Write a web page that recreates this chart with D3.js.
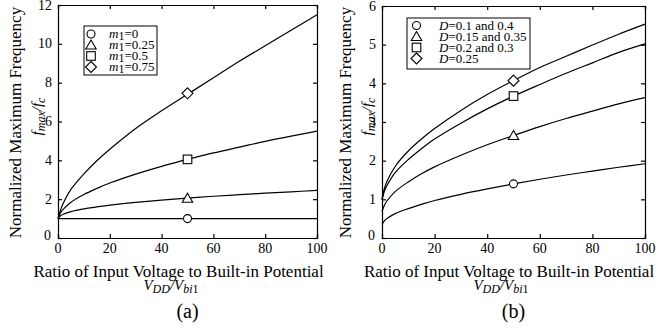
<html>
<head>
<script src="https://d3js.org/d3.v7.min.js"></script>
<style>
  body { margin: 0; background: #fff; }
</style>
</head>
<body>
<div id="chart"></div>
<script>
// x positions (V_DD / V_bi1)
var xs = [0, 1, 2, 5, 10, 15, 20, 30, 40, 50, 60, 70, 80, 90, 100];

// panel (a) curves, f_max/f_c
var aM0   = [1, 1, 1, 1, 1, 1, 1, 1, 1, 1, 1, 1, 1, 1, 1];
var aM025 = [1, 1.15, 1.22, 1.36, 1.5, 1.6, 1.69, 1.83, 1.95, 2.05, 2.15, 2.23, 2.31, 2.38, 2.45];
var aM05  = [1, 1.3, 1.47, 1.84, 2.24, 2.55, 2.83, 3.29, 3.69, 4.05, 4.38, 4.68, 4.98, 5.25, 5.5];
var aM075 = [1, 1.45, 1.78, 2.5, 3.3, 3.98, 4.57, 5.64, 6.55, 7.4, 8.25, 9.1, 9.9, 10.7, 11.5];
var aMarks = [1.0, 2.05, 4.05, 7.45];   // symbols at x = 50
var aLegend = ["0", "0.25", "0.5", "0.75"];

// panel (b) curves
var bD01  = [0.35, 0.45, 0.51, 0.63, 0.76, 0.87, 0.97, 1.13, 1.27, 1.40, 1.52, 1.63, 1.73, 1.83, 1.92];
var bD015 = [0.68, 0.86, 0.97, 1.2, 1.45, 1.66, 1.84, 2.14, 2.41, 2.65, 2.88, 3.09, 3.28, 3.47, 3.63];
var bD02  = [0.98, 1.23, 1.37, 1.69, 2.03, 2.31, 2.56, 2.97, 3.34, 3.67, 3.97, 4.26, 4.53, 4.8, 5.02];
var bD025 = [1.0, 1.3, 1.48, 1.85, 2.25, 2.56, 2.83, 3.3, 3.71, 4.07, 4.41, 4.7, 4.99, 5.27, 5.53];
var bMarks = [1.40, 2.65, 3.67, 4.07];
var bLegend = ["0.1 and 0.4", "0.15 and 0.35", "0.2 and 0.3", "0.25"];

var xTicks = [0, 20, 40, 60, 80, 100];
var aYTicks = [0, 2, 4, 6, 8, 10, 12];
var bYTicks = [0, 1, 2, 3, 4, 5, 6];

var symbols = ["circle", "triangle", "square", "diamond"];
var SERIF = "'Liberation Serif'";

var svg = d3.select("#chart").append("svg")
  .attr("width", 659).attr("height", 328);

function drawSymbol(g, kind, cx, cy) {
  var s = 4.3;
  if (kind === "circle") {
    g.append("circle").attr("cx", cx).attr("cy", cy).attr("r", 4)
      .attr("fill", "#fff").attr("stroke", "#000").attr("stroke-width", 1.1);
  } else if (kind === "square") {
    g.append("rect").attr("x", cx - s).attr("y", cy - s).attr("width", 2 * s).attr("height", 2 * s)
      .attr("fill", "#fff").attr("stroke", "#000").attr("stroke-width", 1.1);
  } else if (kind === "triangle") {
    g.append("path").attr("d", "M" + cx + "," + (cy - 5) + "L" + (cx + 5.2) + "," + (cy + 4) + "L" + (cx - 5.2) + "," + (cy + 4) + "Z")
      .attr("fill", "#fff").attr("stroke", "#000").attr("stroke-width", 1.1);
  } else {
    g.append("path").attr("d", "M" + cx + "," + (cy - 5.5) + "L" + (cx + 5.5) + "," + cy + "L" + cx + "," + (cy + 5.5) + "L" + (cx - 5.5) + "," + cy + "Z")
      .attr("fill", "#fff").attr("stroke", "#000").attr("stroke-width", 1.1);
  }
}

function label(g) {
  return g.append("text").style("font-family", SERIF).attr("fill", "#000");
}

function drawPanel(cfg) {
  var g = svg.append("g");
  var x = d3.scaleLinear().domain([0, 100]).range([cfg.left, cfg.right]);
  var y = d3.scaleLinear().domain([0, cfg.ymax]).range([238, cfg.top]);

  // inward ticks on all four sides
  g.append("g").attr("transform", "translate(0,238)")
    .call(d3.axisBottom(x).tickValues(xTicks).tickSize(-4).tickFormat(""));
  g.append("g").attr("transform", "translate(0," + cfg.top + ")")
    .call(d3.axisTop(x).tickValues(xTicks).tickSize(-4).tickFormat(""));
  g.append("g").attr("transform", "translate(" + cfg.left + ",0)")
    .call(d3.axisLeft(y).tickValues(cfg.yTicks).tickSize(-4).tickFormat(""));
  g.append("g").attr("transform", "translate(" + cfg.right + ",0)")
    .call(d3.axisRight(y).tickValues(cfg.yTicks).tickSize(-4).tickFormat(""));
  g.selectAll(".domain, .tick line").attr("stroke", "#000").attr("stroke-width", 1.2);

  // tick labels
  xTicks.forEach(function (d) {
    label(g).attr("x", x(d)).attr("y", 253).attr("text-anchor", "middle")
      .style("font-size", "14px").text(d);
  });
  cfg.yTicks.forEach(function (d) {
    label(g).attr("x", d === 0 ? cfg.left - 7 : cfg.left - 6)
      .attr("y", d === 0 ? y(d) + 2 : y(d) + 4.5)
      .attr("text-anchor", "end").style("font-size", "14px").text(d);
  });

  // curves
  var line = d3.line()
    .x(function (d) { return x(d[0]); })
    .y(function (d) { return y(d[1]); })
    .curve(d3.curveCatmullRom.alpha(0.5));
  cfg.series.forEach(function (s) {
    g.append("path").datum(xs.map(function (v, i) { return [v, s[i]]; }))
      .attr("d", line).attr("fill", "none").attr("stroke", "#000").attr("stroke-width", 1.2);
  });
  cfg.marks.forEach(function (m, i) {
    drawSymbol(g, symbols[i], x(50), y(m));
  });

  // legend
  var L = cfg.legend;
  g.append("rect").attr("x", L.x).attr("y", L.y).attr("width", L.w).attr("height", L.h)
    .attr("fill", "#fff").attr("stroke", "#000").attr("stroke-width", 1);
  cfg.legendText.forEach(function (t, i) {
    var cy = L.y + L.first + i * L.step;
    drawSymbol(g, symbols[i], L.sx, cy);
    var tx = label(g).attr("x", L.tx).attr("y", cy + 4).style("font-size", "13px");
    if (cfg.name === "a") {
      tx.append("tspan").style("font-style", "italic").text("m");
      tx.append("tspan").attr("dy", 2).style("font-size", "12px").text("1");
      tx.append("tspan").attr("dy", -2).text("=" + t);
    } else {
      tx.append("tspan").style("font-style", "italic").text("D");
      tx.append("tspan").text("=" + t);
    }
  });

  // axis titles
  var cx = (cfg.left + cfg.right) / 2;
  label(g).attr("x", cfg.titleX).attr("y", 277).attr("text-anchor", "middle")
    .style("font-size", "17px").text("Ratio of Input Voltage to Built-in Potential");
  var v = label(g).attr("x", cfg.unitX).attr("y", 290).attr("text-anchor", "middle")
    .style("font-size", "15px").style("font-style", "italic");
  v.append("tspan").text("V");
  v.append("tspan").attr("dy", 3).style("font-size", "12px").text("DD");
  v.append("tspan").attr("dy", -3).text("/V");
  v.append("tspan").attr("dy", 3).style("font-size", "12px").text("bi");
  v.append("tspan").style("font-size", "12px").style("font-style", "normal").text("1");
  label(g).attr("x", cx).attr("y", 318).attr("text-anchor", "middle")
    .style("font-size", "20px").text("(" + cfg.name + ")");

  var yt = g.append("g").attr("transform", "translate(" + cfg.ytx + ",122.5) rotate(-90)");
  label(yt).attr("x", 0).attr("y", 0).attr("text-anchor", "middle")
    .style("font-size", "17px").text("Normalized Maximum Frequency");
  var f = label(yt).attr("x", 6).attr("y", 21).attr("text-anchor", "middle")
    .style("font-size", "15px").style("font-style", "italic");
  f.append("tspan").text("f");
  f.append("tspan").attr("dy", 3).style("font-size", "12px").text("max");
  f.append("tspan").attr("dy", -3).text("/f");
  f.append("tspan").attr("dy", 3).style("font-size", "12px").text("c");
}

drawPanel({
  name: "a", left: 58, right: 317, top: 5, ymax: 12, yTicks: aYTicks,
  series: [aM0, aM025, aM05, aM075], marks: aMarks, legendText: aLegend,
  legend: { x: 84, y: 26, w: 73, h: 49, first: 8, step: 11, sx: 91, tx: 109 },
  ytx: 21, titleX: 178.5, unitX: 171
});
drawPanel({
  name: "b", left: 382, right: 645, top: 6, ymax: 6, yTicks: bYTicks,
  series: [bD01, bD015, bD02, bD025], marks: bMarks, legendText: bLegend,
  legend: { x: 407, y: 18, w: 123, h: 51, first: 7.5, step: 11, sx: 416.5, tx: 439 },
  ytx: 351, titleX: 509, unitX: 501
});
</script>
</body>
</html>
